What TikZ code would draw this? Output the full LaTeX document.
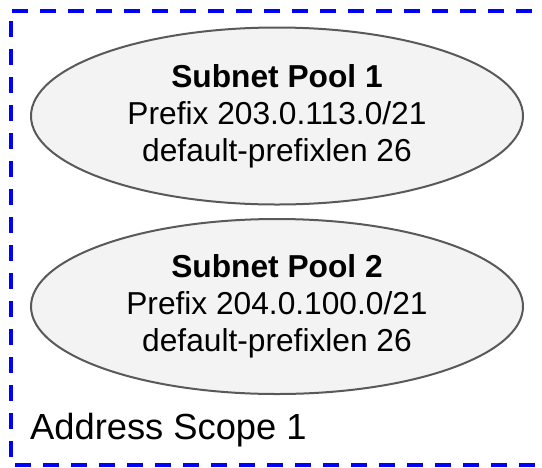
\documentclass[tikz,border=0pt]{standalone}
\usepackage{fontspec}
\setmainfont{Liberation Sans}
\usetikzlibrary{shapes.geometric}
\definecolor{poolfill}{HTML}{F3F3F3}
\definecolor{poolline}{HTML}{595959}
\definecolor{scopeblue}{HTML}{0000FF}
\begin{document}
\begin{tikzpicture}[x=1pt,y=-1pt,
  pool/.style={ellipse, draw=poolline, fill=poolfill, line width=2pt,
    minimum width=492pt, minimum height=177pt, inner sep=0pt,
    align=center, font=\fontsize{31.7pt}{37pt}\selectfont},
  scopebox/.style={draw=scopeblue, line width=4pt, dash pattern=on 16pt off 12pt},
  scopelabel/.style={font=\fontsize{36.3pt}{43pt}\selectfont, inner sep=0pt, anchor=base west}]
  \useasboundingbox (0,0) rectangle (542,467);
  % address scope boundary (right edge runs past the page)
  \draw[scopebox] (560,10.7) -- (10.7,10.7) -- (10.7,465) -- (560,465);
  % subnet pools
  \node[pool] (pool1) at (277,116) {\textbf{Subnet Pool 1}\\Prefix 203.0.113.0/21\\default-prefixlen 26};
  \node[pool, minimum height=175pt] (pool2) at (277,306.5) {\textbf{Subnet Pool 2}\\Prefix 204.0.100.0/21\\default-prefixlen 26};
  \node[scopelabel] (scope) at (30,439) {Address Scope 1};
\end{tikzpicture}
\end{document}
